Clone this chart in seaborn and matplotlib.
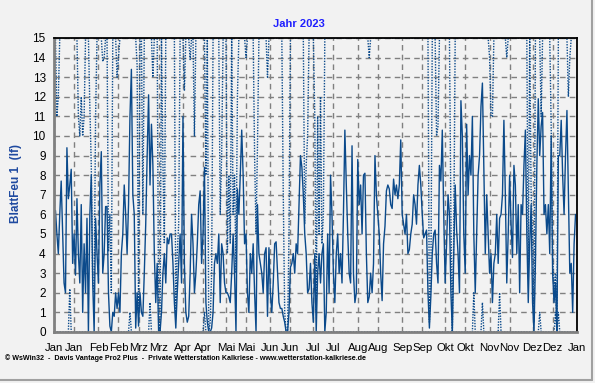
import numpy as np
import pandas as pd
import matplotlib
matplotlib.use("Agg")
import matplotlib.pyplot as plt
import matplotlib.dates as mdates
from matplotlib.ticker import FuncFormatter, MultipleLocator
from matplotlib.lines import Line2D
import seaborn as sns

# Blattfeuchte Sensor 1, Tageswerte 2023
blatt_jan = [4.5, 6.2, 5.0, 4.0, 6.0, 7.7, 5.0, 2.5, 2.0, 9.4, 6.8, 7.5, 8.3, 3.5, 5.0, 2.9,
             6.8, 4.0, 2.5, 6.5, 1.0, 4.5, 2.0, 5.8, 0.0, 6.0, 8.0, 2.5, 0.0, 5.8, 4.0]
blatt_feb = [2.5, 7.5, 9.2, 3.0, 4.0, 6.4, 6.4, 2.0, 0.3, 0.0, 1.0, 0.8, 2.0, 1.2, 2.0, 1.0,
             4.0, 5.0, 7.5, 6.0, 4.0, 6.5, 11.0, 13.4, 7.0, 6.0, 0.2, 2.0]
blatt_mrz = [0.3, 2.0, 1.0, 0.8, 3.0, 5.5, 9.0, 12.1, 7.5, 10.6, 8.5, 4.0, 1.5, 3.5, 0.0, 0.0,
             1.0, 3.0, 4.0, 2.5, 4.8, 4.5, 5.0, 5.0, 3.5, 1.5, 0.2, 2.0, 3.5, 5.0, 2.5]
blatt_apr = [11.0, 3.5, 1.0, 0.5, 0.8, 3.0, 6.0, 4.5, 2.0, 3.0, 4.5, 6.5, 7.2, 3.5, 5.0, 8.4,
             1.5, 0.5, 0.0, 0.0, 0.2, 1.0, 3.5, 4.0, 3.5, 5.0, 1.5, 4.5, 4.0, 2.5]
blatt_mai = [2.0, 2.0, 1.8, 1.5, 3.0, 5.0, 3.0, 0.0, 7.3, 6.0, 8.0, 10.3, 8.0, 4.5, 5.0, 2.0,
             1.0, 4.0, 3.0, 4.5, 2.0, 0.0, 6.5, 4.0, 3.5, 3.0, 2.0, 4.0, 4.3, 0.8, 4.3]
blatt_jun = [2.0, 1.0, 2.5, 4.5, 4.6, 3.0, 1.5, 1.2, 1.2, 0.8, 0.5, 0.0, 0.0, 1.0, 3.3, 3.5,
             4.0, 3.0, 4.5, 4.0, 6.5, 9.0, 8.4, 7.0, 5.0, 4.0, 2.0, 2.2, 3.5, 1.5]
blatt_jul = [0.5, 4.0, 0.0, 3.0, 4.0, 2.5, 4.0, 4.5, 0.0, 1.0, 5.0, 2.0, 8.0, 6.0, 3.0, 1.5,
             4.0, 5.0, 3.0, 4.0, 2.5, 6.0, 10.3, 7.5, 5.0, 3.0, 2.5, 9.5, 3.0, 1.5, 2.0]
blatt_aug = [8.8, 6.5, 7.5, 5.0, 8.0, 8.1, 4.0, 1.5, 1.8, 3.0, 2.0, 3.5, 9.0, 7.0, 6.0, 5.0,
             3.0, 1.6, 4.5, 5.4, 7.2, 7.5, 7.3, 6.5, 6.3, 7.8, 7.0, 7.5, 6.8, 7.5, 9.8]
blatt_sep = [6.0, 5.5, 5.0, 6.0, 4.0, 4.2, 5.0, 5.5, 7.0, 6.5, 5.5, 7.5, 8.5, 7.5, 6.0, 4.8,
             5.0, 5.2, 2.0, 0.2, 1.8, 4.0, 5.0, 5.2, 3.5, 2.5, 8.5, 7.7, 10.3, 6.0]
blatt_okt = [2.5, 4.5, 7.0, 6.0, 2.0, 0.0, 4.0, 7.5, 5.2, 4.0, 2.0, 11.8, 10.0, 5.0, 3.0, 10.6,
             7.0, 9.0, 8.0, 11.0, 5.0, 2.0, 5.0, 8.0, 9.0, 11.5, 12.7, 8.5, 4.0, 7.0, 5.0]
blatt_nov = [3.0, 4.0, 1.5, 3.5, 4.0, 6.0, 3.5, 5.8, 6.0, 7.0, 10.8, 7.0, 2.5, 5.0, 8.0, 5.5,
             3.8, 8.5, 7.5, 4.0, 6.5, 2.0, 6.5, 6.0, 8.5, 10.3, 5.0, 1.5, 4.5, 6.5]
blatt_dez = [1.5, 0.0, 3.5, 8.5, 11.9, 9.0, 10.5, 11.2, 6.0, 6.5, 5.0, 6.5, 4.0, 10.0, 3.0, 1.5,
             2.5, 0.0, 9.0, 9.0, 10.8, 8.0, 6.0, 9.0, 11.3, 7.0, 3.0, 3.5, 1.0, 4.5, 6.0]

# Maximalwerte: meist 15, Einbrueche an diesen Tagen (Tag des Jahres, 0 = 1. Jan)
max_tage = [2, 3, 17, 18, 19, 20, 21, 25, 26, 27, 28, 29, 34, 35, 38, 39, 40, 44, 45, 58,
            59, 62, 69, 73, 74, 76, 77, 85, 86, 87, 91, 95, 98, 106, 108, 109, 110, 116, 117,
            121, 122, 123, 125, 126, 127, 128, 134, 140, 141, 142, 149, 160, 161, 162, 163, 164,
            175, 176, 177, 182, 183, 184, 185, 186, 187, 188, 220, 262, 263, 267, 268, 277, 278,
            279, 304, 305, 306, 316, 331, 333, 334, 335, 340, 347, 348, 349, 350, 351, 359, 360]
max_werte = [11, 12, 11, 10, 12, 10, 11, 11.5, 8.5, 2.5, 2, 11, 13.8, 14, 4.1, 6, 2, 13, 14, 13.6,
             1, 6, 13, 0.5, 0, 8.7, 4.5, 1, 4, 5.5, 12.3, 13.9, 10, 8, 0, 0.5, 3, 6, 9,
             4, 8, 4.5, 6, 8, 3, 12, 14, 9, 5, 9.5, 13, 7, 1, 0, 0, 5,
             5.5, 8.5, 10, 11, 1, 11, 5, 12, 4.5, 6, 14, 0.5, 2.5, 10, 10.5, 6, 0,
             5, 14, 11, 11, 14, 3, 7, 5, 0.5, 11, 10.5, 4, 2, 3, 0, 12, 14]
max_normal = 15.0

# Minimalwerte: meist 0, kleine Anstiege an diesen Tagen
min_tage = [11, 53, 67, 105, 293, 299, 311, 339, 350, 352]
min_werte = [2.2, 1.0, 1.5, 1.0, 2.0, 1.5, 2.0, 1.0, 1.0, 1.0]

monate = ["Jan", "Feb", "Mrz", "Apr", "Mai", "Jun", "Jul", "Aug", "Sep", "Okt", "Nov", "Dez"]

blatt = (blatt_jan + blatt_feb + blatt_mrz + blatt_apr + blatt_mai + blatt_jun +
         blatt_jul + blatt_aug + blatt_sep + blatt_okt + blatt_nov + blatt_dez)
tage = pd.date_range("2023-01-01", periods=len(blatt), freq="D")
hoch = np.full(len(blatt), max_normal)
hoch[max_tage] = max_werte
tief = np.zeros(len(blatt))
tief[min_tage] = min_werte

df = pd.DataFrame({"Datum": tage, "Blatt": blatt, "Max": hoch, "Min": tief})

sns.set_style("white")
plt.rcParams["font.family"] = ["Liberation Sans", "DejaVu Sans"]

bg = "#f2f2f2"
blau = "#0b4a8b"
grau = "#808080"

fig = plt.figure(figsize=(5.95, 3.83), dpi=100, facecolor=bg)
ax = fig.add_axes([0.0908, 0.1332, 0.8789, 0.7676])
ax.set_facecolor(bg)

sns.lineplot(data=df, x="Datum", y="Max", ax=ax, color=blau, lw=1.0, linestyle=(0, (1, 1)))
sns.lineplot(data=df, x="Datum", y="Min", ax=ax, color=blau, lw=1.0, linestyle=(0, (1, 1)))
sns.lineplot(data=df, x="Datum", y="Blatt", ax=ax, color=blau, lw=1.0)

ax.set_xlim(pd.Timestamp("2023-01-01"), pd.Timestamp("2024-01-01"))
ax.set_ylim(0, 15)

ax.xaxis.set_major_locator(mdates.DayLocator(bymonthday=[1, 15]))
ax.xaxis.set_minor_locator(mdates.DayLocator(bymonthday=[5, 10, 20, 25]))
ax.xaxis.set_major_formatter(FuncFormatter(lambda v, p: monate[mdates.num2date(v).month - 1]))
ax.yaxis.set_major_locator(MultipleLocator(1))
ax.yaxis.set_minor_locator(MultipleLocator(0.5))

ax.grid(True, which="major", color=grau, linestyle=(0, (4, 3)), lw=1)
ax.set_axisbelow(True)

for s in ["left", "bottom"]:
    ax.spines[s].set_color(grau)
    ax.spines[s].set_linewidth(2)
for s in ["top", "right"]:
    ax.spines[s].set_color("black")
    ax.spines[s].set_linewidth(1.3)

ax.tick_params(axis="both", which="major", length=4, width=1, color=grau,
               labelsize=8.5, labelcolor="black", pad=2)
ax.tick_params(axis="both", which="minor", length=2.5, width=1, color=grau)
ax.tick_params(axis="x", which="major", pad=4, labelsize=8.2)

ax.set_xlabel("")
ax.set_ylabel("")

fig.text(0.503, 0.938, "Jahr 2023", ha="center", va="center", color="#1f1fff",
         fontsize=8, fontweight="bold")
fig.text(0.027, 0.52, "BlattFeu 1  (lf)", ha="center", va="center", rotation=90,
         color="#1f4aa0", fontsize=8.5, fontweight="bold")
fig.text(0.009, 0.065, "© WsWin32  -  Davis Vantage Pro2 Plus  -  Private Wetterstation Kalkriese"
         " - www.wetterstation-kalkriese.de", ha="left", va="center", color="black",
         fontsize=5.1, fontweight="bold")

# heller Rahmen unten/rechts
fig.add_artist(Line2D([0, 0.995], [0.007, 0.007], transform=fig.transFigure, color="#a0a0a0", lw=1.5))
fig.add_artist(Line2D([0.995, 0.995], [0.007, 1], transform=fig.transFigure, color="#a0a0a0", lw=1.5))

fig.savefig("out.png", dpi=100, facecolor=bg)
